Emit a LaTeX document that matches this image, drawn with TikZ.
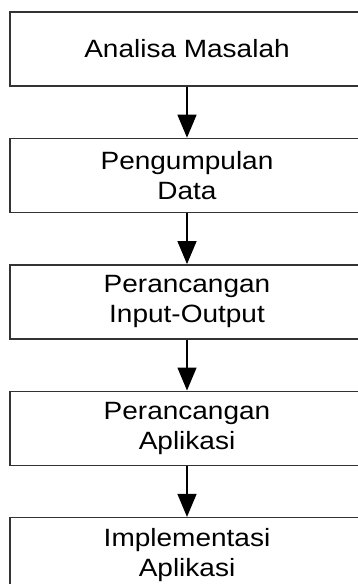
\documentclass[tikz,border=0pt]{standalone}
\usepackage{fontspec}
\setmainfont[FakeStretch=1.12]{Liberation Sans}
\usetikzlibrary{arrows.meta,positioning}

\begin{document}
\begin{tikzpicture}[
    langkah/.style={draw=black!80, line width=1.4pt, minimum width=354pt, minimum height=74pt,
        align=center, inner sep=0pt, font=\fontsize{25}{30}\selectfont},
    panah/.style={-{Triangle[width=19pt,length=23pt]}, line width=1.4pt},
    node distance=51pt
]
    \useasboundingbox (0,0) rectangle (358pt,-584pt);
    \node [langkah] (analisa) at (187pt,-49pt) {Analisa Masalah};
    \node [langkah, below=of analisa] (data) {Pengumpulan\\Data};
    \node [langkah, below=of data] (io) {Perancangan\\Input-Output};
    \node [langkah, below=of io] (aplikasi) {Perancangan\\Aplikasi};
    \node [langkah, below=of aplikasi] (implementasi) {Implementasi\\Aplikasi};
    \draw [panah] (analisa) -- (data);
    \draw [panah] (data) -- (io);
    \draw [panah] (io) -- (aplikasi);
    \draw [panah] (aplikasi) -- (implementasi);
\end{tikzpicture}
\end{document}
